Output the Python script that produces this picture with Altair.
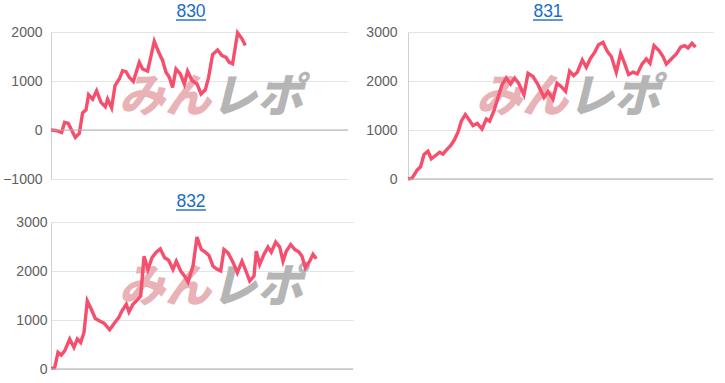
import altair as alt
import pandas as pd

# ---- data ----
titles = ["830", "831", "832"]

x830 = [0, 5, 10.6, 13.6, 17.3, 24.3, 28.3, 31.6, 35, 37.6, 41.6, 45.6, 50, 54.3, 56.6, 60.6,
        64, 68.3, 71.6, 75, 78.3, 82.3, 88.3, 91.6, 96.6, 103.3, 107.6, 111.6, 115, 118.3,
        121.6, 125, 129.3, 133.3, 136.6, 141, 146, 150, 154.3, 157.6, 161.6, 166.6, 171,
        175, 178.3, 181.6, 186.6, 191, 194.3]
y830 = [0, -10, -50, 155, 135, -150, -70, 350, 410, 720, 630, 800, 565, 475, 630, 450,
        905, 1040, 1210, 1190, 1075, 990, 1380, 1245, 1200, 1810, 1590, 1420, 1180, 1075,
        870, 1245, 1145, 940, 1200, 1010, 940, 735, 820, 1075, 1540, 1635, 1520,
        1485, 1380, 1350, 1985, 1860, 1725]

x831 = [0, 4, 6.6, 9.3, 12.6, 16, 20, 23.3, 27.3, 31.6, 35, 38.3, 42.6, 46, 50, 53.3,
        57.3, 60.6, 65, 69.3, 74, 78.3, 81.6, 86, 90, 94, 98.3, 102.6, 106.6, 110.6,
        116, 120, 125, 130, 136, 140, 145, 149, 153.3, 157.6, 161.6, 165.6, 169.3, 174.3,
        178.3, 182.6, 186.6, 190.6, 195, 199.3, 203.3, 208.3, 212.6, 216.6, 220.6, 225,
        229.3, 234, 238.3, 242, 246, 251, 255, 258.3, 263.3, 268.3, 272.6, 276.6, 280,
        284, 287.6]
y831 = [0, 15, 100, 185, 250, 500, 565, 410, 475, 545, 510, 590, 680, 785, 955, 1180,
        1315, 1225, 1090, 1135, 1020, 1225, 1180, 1395, 1665, 1925, 2060, 1940, 2060, 1955,
        1720, 2155, 2090, 1925, 1665, 1785, 1630, 1955, 1885, 1790, 2200, 2110, 2180, 2430,
        2280, 2465, 2585, 2740, 2790, 2605, 2500, 2180, 2565, 2360, 2130, 2180,
        2145, 2345, 2450, 2360, 2720, 2620, 2500, 2345, 2450, 2550, 2690, 2720, 2675,
        2770, 2690]

x832 = [0.3, 3.7, 7, 10.3, 13.7, 18.7, 23, 26.3, 29.7, 33, 36.3, 40.3, 44.3, 48.7, 53,
        58.7, 63.7, 67.7, 71, 75.3, 78, 82, 86.3, 89.7, 93, 97, 101, 105.3, 109.3, 113.7,
        117.7, 122, 125.3, 129.7, 133.7, 137, 142, 146, 150.3, 154.3, 158, 162, 165.3,
        169.7, 173, 177, 182, 186.3, 191, 195.3, 198.7, 203, 205.3, 208.7, 213, 217, 220.3,
        224.7, 228.7, 232, 235.3, 239.7, 243.7, 248, 251, 254.3, 258.7, 262, 265.3]
y832 = [10, 30, 340, 285, 370, 610, 440, 610, 540, 745, 1390, 1220, 1030, 980, 935,
        800, 945, 1050, 1185, 1320, 1165, 1320, 1410, 1490, 2300, 2030, 2270, 2385, 2450,
        2270, 2220, 2030, 2200, 2000, 1895, 1775, 2100, 2695, 2440, 2385, 2315, 2100, 2045,
        2000, 2440, 2370, 2180, 1965, 2200, 1980, 1795, 1895, 2405, 2135, 2340, 2490, 2385,
        2590, 2490, 2200, 2405, 2540, 2440, 2385, 2300, 2065, 2200, 2340, 2250]

LINE = "#f54f6d"
PINK = "#e8b2b6"
GRAY = "#b5b5b5"
TITLE_BLUE = "#1a6cc6"
H = 147


def panel(xs, ys, title, ydom, yvals, w, label_pad):
    df = pd.DataFrame({"x": xs, "y": ys})
    one = pd.DataFrame({"z": [0]})
    line = alt.Chart(df).mark_line(color=LINE, strokeWidth=3.4).encode(
        x=alt.X("x:Q", scale=alt.Scale(domain=[0, w], nice=False, zero=False), axis=None),
        y=alt.Y("y:Q", scale=alt.Scale(domain=ydom, nice=False),
                axis=alt.Axis(values=yvals, format="d", title=None, ticks=False, domain=True,
                              domainColor="#d0d0d0", gridColor="#e4e4e4",
                              labelColor="#606060", labelFontSize=14,
                              labelFont="Liberation Sans", labelPadding=label_pad,
                              labelFlush=False)),
    )
    base = alt.Chart(one).mark_rule(color="#b0b0b0", strokeWidth=1.2).encode(y="z:Q")
    wm1 = alt.Chart(one).mark_text(text="みん", font="Noto Sans CJK JP", fontSize=46,
                                   fontWeight=900, fontStyle="italic", color=PINK,
                                   align="right", baseline="middle").encode(
        x=alt.value(160), y=alt.value(66))
    wm2 = alt.Chart(one).mark_text(text="レポ", font="Noto Sans CJK JP", fontSize=46,
                                   fontWeight=900, fontStyle="italic", color=GRAY,
                                   align="left", baseline="middle").encode(
        x=alt.value(160), y=alt.value(66))
    ttl = alt.Chart(one).mark_text(text=title, font="Liberation Sans", fontSize=17.5,
                                   color=TITLE_BLUE, align="center",
                                   baseline="alphabetic").encode(
        x=alt.value(140), y=alt.value(-15))
    ul = alt.Chart(one).mark_rule(color=TITLE_BLUE, strokeWidth=1.4).encode(
        x=alt.value(125), x2=alt.value(155), y=alt.value(-12))
    return alt.layer(wm1, wm2, line, base, ttl, ul).properties(width=w, height=H)


p830 = panel(x830, y830, titles[0], [-1000, 2000], [-1000, 0, 1000, 2000], 297, 9)
p831 = panel(x831, y831, titles[1], [0, 3000], [0, 1000, 2000, 3000], 305, 11)
p832 = panel(x832, y832, titles[2], [0, 3000], [0, 1000, 2000, 3000], 302, 4)

chart = alt.vconcat(
    alt.hconcat(p830, p831, spacing=16),
    p832,
    spacing=7,
).properties(
    padding={"left": 2, "top": 3, "right": 5, "bottom": 5},
    background="white",
).configure_view(stroke=None)

chart.save("out.html", embed_options={"renderer": "svg", "actions": False})
